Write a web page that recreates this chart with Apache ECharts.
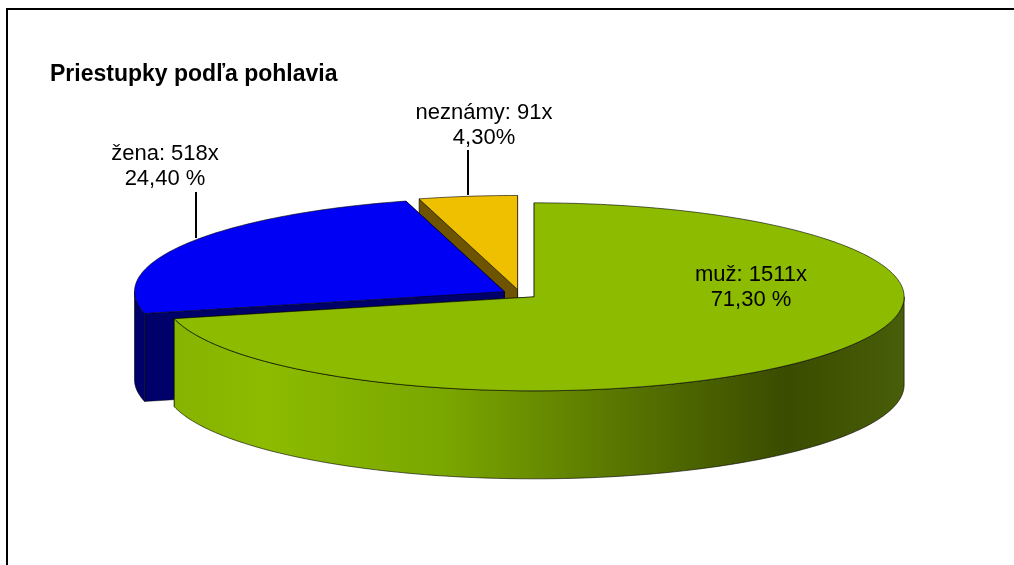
<!DOCTYPE html>
<html>
<head>
<meta charset="utf-8">
<script src="https://cdn.jsdelivr.net/npm/echarts@6/dist/echarts.min.js"></script>
<style>
  html, body { margin: 0; padding: 0; background: #fff; }
  #main { width: 1014px; height: 565px; }
</style>
</head>
<body>
<div id="main"></div>
<script>
// data
var categories = ['muž', 'žena', 'neznámy'];
var counts = [1511, 518, 91];
var pctLabels = ['71,30 %', '24,40 %', '4,30%'];

// styling per slice
var topColors = ['#8cbb00', '#0000f5', '#eec000'];
var sideColors = ['#3c5000', '#00006a', '#6e5400'];
var drawOrder = [2, 1, 0]; // green in front, yellow at the back

// label anchors relative to pie centre (layout only)
var labelOffsets = [[231, -7], [-355, -128], [-36, -169]];
var leaderLines = [null, [[-324, -102], [-324, -56]], [[-52, -144], [-52, -99]]];

var total = counts.reduce(function (a, b) { return a + b; }, 0);
var seriesData = [];
var acc = 0;
for (var i = 0; i < counts.length; i++) {
  seriesData.push([acc / total, (acc + counts[i]) / total, i]);
  acc += counts[i];
}

var cx = 520, cy = 294, rx = 370, ry = 94, depth = 88, explode = 18;

function pt(ox, oy, th, h) {
  return [cx + ox + rx * Math.sin(th), cy + oy - ry * Math.cos(th) + h];
}

function arc(ox, oy, a, b, h) {
  var pts = [];
  var n = Math.max(2, Math.ceil(Math.abs(b - a) / 0.02));
  for (var k = 0; k <= n; k++) {
    pts.push(pt(ox, oy, a + (b - a) * k / n, h));
  }
  return pts;
}

function renderItem(params, api) {
  var idx = api.value(2);
  var a = api.value(0) * Math.PI * 2;
  var b = api.value(1) * Math.PI * 2;
  var mid = (a + b) / 2;
  var ox = explode * Math.sin(mid);
  var oy = -explode * (ry / rx) * Math.cos(mid);
  var apex = [cx + ox, cy + oy];
  var z = drawOrder[idx] * 10;
  var edgeColor = 'rgba(0,0,0,0.75)';
  var children = [];

  // radial walls
  [a, b].forEach(function (th) {
    var p0 = pt(ox, oy, th, 0);
    children.push({
      type: 'polygon',
      z2: z + 1,
      shape: { points: [apex, p0, [p0[0], p0[1] + depth], [apex[0], apex[1] + depth]] },
      style: { fill: sideColors[idx], stroke: edgeColor, lineWidth: 0.6 }
    });
  });

  // outer side, front half only
  var s = Math.max(a, Math.PI / 2), e = Math.min(b, Math.PI * 1.5);
  if (e > s) {
    var topArc = arc(ox, oy, s, e, 0);
    var botArc = arc(ox, oy, e, s, depth);
    var fill = sideColors[idx];
    if (idx === 0) {
      fill = new echarts.graphic.LinearGradient(cx + ox - rx, 0, cx + ox + rx, 0, [
        { offset: 0, color: '#86b300' },
        { offset: 0.14, color: '#8cbb00' },
        { offset: 0.38, color: '#7aa600' },
        { offset: 0.62, color: '#587500' },
        { offset: 0.84, color: '#3a4c00' },
        { offset: 1, color: '#485e08' }
      ], true);
    }
    children.push({
      type: 'polygon',
      z2: z + 2,
      shape: { points: topArc.concat(botArc) },
      style: { fill: fill, stroke: edgeColor, lineWidth: 0.8 }
    });
  }

  // top face
  children.push({
    type: 'polygon',
    z2: z + 3,
    shape: { points: [apex].concat(arc(ox, oy, a, b, 0)) },
    style: { fill: topColors[idx], stroke: edgeColor, lineWidth: 0.8 }
  });

  // label
  var lo = labelOffsets[idx];
  children.push({
    type: 'text',
    z2: 100,
    style: {
      text: categories[idx] + ': ' + counts[idx] + 'x\n' + pctLabels[idx],
      x: cx + lo[0], y: cy + lo[1],
      align: 'center', verticalAlign: 'middle',
      font: '22px "Liberation Sans", Arial, sans-serif',
      lineHeight: 25,
      fill: '#000'
    }
  });
  var ll = leaderLines[idx];
  if (ll) {
    children.push({
      type: 'line',
      z2: 100,
      shape: { x1: cx + ll[0][0], y1: cy + ll[0][1], x2: cx + ll[1][0], y2: cy + ll[1][1] },
      style: { stroke: '#000', lineWidth: 2 }
    });
  }
  return { type: 'group', children: children };
}

var myChart = echarts.init(document.getElementById('main'));
var option = {
  animation: false,
  title: {
    text: 'Priestupky podľa pohlavia',
    left: 45, top: 58,
    textStyle: { fontFamily: '"Liberation Sans", Arial, sans-serif', fontWeight: 'bold', fontSize: 23, color: '#000' }
  },
  graphic: [{
    type: 'polyline',
    shape: { points: [[7, 600], [7, 9], [1020, 9]] },
    style: { stroke: '#000', lineWidth: 2, fill: null }
  }],
  series: [{
    type: 'custom',
    coordinateSystem: 'none',
    renderItem: renderItem,
    data: seriesData
  }]
};
myChart.setOption(option);
window.addEventListener('resize', myChart.resize);
</script>
</body>
</html>
